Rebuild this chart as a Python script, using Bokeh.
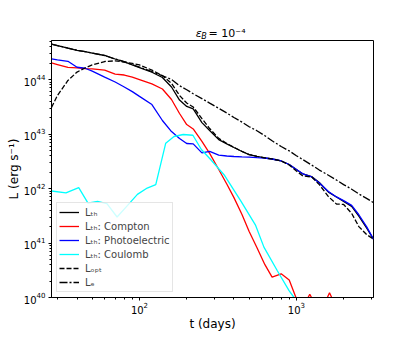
from bokeh.plotting import figure
from bokeh.layouts import column
from bokeh.models import Range1d, FixedTicker, LogTickFormatter, Legend, LegendItem
from bokeh.core.properties import value
from bokeh.embed import file_html
from bokeh.resources import INLINE

# ---- data ----
t = [27.5, 30, 35, 40, 45, 50, 60, 70, 80, 90, 100, 120, 140, 160, 180, 200, 220, 250,
     280, 320, 360, 400, 450, 500, 560, 630, 700, 800, 900, 1000, 1100, 1250, 1400,
     1600, 1800, 2000, 2250, 2500, 2800, 3100]

L_th = [4.48e44, 4.2e44, 3.77e44, 3.44e44, 3.24e44, 3.06e44, 2.76e44, 2.38e44, 2.11e44,
        1.85e44, 1.66e44, 1.36e44, 1.09e44, 7.3e43, 4.2e43, 3.2e43, 2.9e43, 1.62e43,
        1.16e43, 7.9e42, 6.6e42, 5.65e42, 4.78e42, 4.2e42, 3.87e42, 3.63e42, 3.48e42,
        3.2e42, 2.76e42, 2.23e42, 1.85e42, 1.66e42, 1.29e42, 8.6e41, 7.0e41, 5.8e41,
        4.7e41, 3.1e41, 1.9e41, 1.18e41]

L_photo = [2.40e44, 2.30e44, 2.16e44, 1.68e44, 1.61e44, 1.43e44, 1.11e44, 9.0e43, 7.3e43,
           6.0e43, 4.9e43, 3.47e43, 1.77e43, 1.11e43, 8.3e42, 6.7e42, 6.6e42, 4.5e42,
           4.8e42, 4.1e42, 3.95e42, 3.87e42, 3.82e42, 3.78e42, 3.7e42, 3.63e42, 3.48e42,
           3.2e42, 2.76e42, 2.23e42, 1.86e42, 1.63e42, 1.26e42, 8.8e41, 7.0e41, 6.0e41,
           4.9e41, 3.3e41, 2.0e41, 1.18e41]

t_comp = [27.5, 30, 35, 40, 45, 50, 60, 70, 80, 90, 100, 120, 140, 160, 180, 200, 220,
          250, 280, 320, 360, 400, 450, 500, 560, 630, 700, 800, 900, 1000, 1100, 1140,
          1217, 1300, 1400, 1520, 1626, 1740, 2000, 2500, 3100]
L_comp = [2.01e44, 1.88e44, 1.67e44, 1.64e44, 1.59e44, 1.57e44, 1.49e44, 1.26e44, 1.21e44,
          1.11e44, 1.0e44, 8.3e43, 6.7e43, 4.3e43, 2.38e43, 1.49e43, 1.24e43, 7.3e42,
          4.4e42, 2.23e42, 1.21e42, 6.8e41, 3.33e41, 1.63e41, 8.3e40, 4.0e40, 2.36e40,
          2.72e40, 2.1e40, 9.5e39, 6e39, 8e39, 1.15e40, 8e39, 5e39, 8e39, 1.22e40, 8e39,
          4e39, 3e39, 2e39]

t_coul = [27.5, 34, 41, 47, 54, 62, 72, 84, 97, 112, 127, 147, 166, 190, 219, 248, 284,
          349, 441, 550, 621, 756, 898, 966, 1100]
L_coul = [9.0e41, 8.3e41, 1.04e42, 5.4e41, 5.8e41, 5.3e41, 3.0e41, 4.9e41, 7.8e41, 1.02e42,
          1.18e42, 6.8e42, 9.0e42, 9.8e42, 9.5e42, 5.2e42, 3.4e42, 1.73e42, 6.0e41, 2.1e41,
          8.4e40, 3.1e40, 1.34e40, 1.0e40, 4e39]

L_opt = [3.06e43, 5.1e43, 9.6e43, 1.37e44, 1.63e44, 1.85e44, 2.14e44, 2.20e44, 2.09e44,
         1.97e44, 1.85e44, 1.49e44, 1.18e44, 8.5e43, 5.1e43, 3.7e43, 3.13e43, 1.92e43,
         1.26e43, 8.3e42, 6.7e42, 5.7e42, 4.8e42, 4.2e42, 3.9e42, 3.65e42, 3.5e42, 3.2e42,
         2.7e42, 2.1e42, 1.7e42, 1.63e42, 1.18e42, 7.1e41, 5.2e41, 5.1e41, 3.5e41, 2.0e41,
         1.43e41, 1.18e41]

L_e = [4.48e44, 4.2e44, 3.77e44, 3.44e44, 3.24e44, 3.06e44, 2.76e44, 2.38e44, 2.14e44,
       1.87e44, 1.69e44, 1.40e44, 1.17e44, 1.0e44, 7.7e43, 6.5e43, 5.47e43, 4.47e43,
       3.69e43, 2.96e43, 2.43e43, 2.01e43, 1.65e43, 1.36e43, 1.15e43, 9.3e42, 7.5e42,
       5.9e42, 4.9e42, 4.0e42, 3.39e42, 2.7e42, 2.18e42, 1.75e42, 1.43e42, 1.18e42,
       9.7e41, 7.96e41, 6.6e41, 5.5e41]

x_major = [100, 1000]
x_minor = [30, 40, 50, 60, 70, 80, 90, 200, 300, 400, 500, 600, 700, 800, 900, 2000, 3000]
y_major = [1e40, 1e41, 1e42, 1e43, 1e44]
y_minor = [k * 10.0 ** n for n in range(40, 45) for k in range(2, 10)]

labels = ["L\u209c\u2095", "L\u209c\u2095: Compton", "L\u209c\u2095: Photoelectric",
          "L\u209c\u2095: Coulomb", "L\u2092\u209a\u209c", "L\u2091"]

title_parts = ["\u03b5", "B", "= 10\u207b\u2074"]

FONT = "DejaVu Sans"

# ---- title strip (rich text: epsilon_B = 10^-4) ----
tf = figure(width=415, height=39, x_range=Range1d(0, 415), y_range=Range1d(39, 0),
            output_backend="svg", toolbar_location=None, min_border=0,
            x_axis_location=None, y_axis_location=None)
tf.outline_line_color = None
tf.xgrid.visible = False
tf.ygrid.visible = False
tf.text(x=[186], y=[33.0], text=[title_parts[0]], text_font=value(FONT),
        text_font_size="11px", text_font_style="italic", text_baseline="middle",
        text_color="black")
tf.text(x=[193], y=[35.5], text=[title_parts[1]], text_font=value(FONT),
        text_font_size="8px", text_font_style="italic", text_baseline="middle",
        text_color="black")
tf.text(x=[202.5], y=[33.0], text=[title_parts[2]], text_font=value(FONT),
        text_font_size="11px", text_baseline="middle", text_color="black")

# ---- main plot ----
p = figure(width=415, height=301, x_axis_type="log", y_axis_type="log",
           x_range=Range1d(27.5, 3100), y_range=Range1d(1e40, 5.2e44),
           output_backend="svg", toolbar_location=None,
           min_border_left=51, min_border_right=42, min_border_top=1, min_border_bottom=43)

p.xgrid.grid_line_color = None
p.ygrid.grid_line_color = None
p.outline_line_color = "black"
p.outline_line_alpha = 1.0
p.outline_line_width = 1
p.background_fill_color = "white"
p.border_fill_color = "white"

p.xaxis.ticker = FixedTicker(ticks=x_major, minor_ticks=x_minor)
p.yaxis.ticker = FixedTicker(ticks=y_major, minor_ticks=y_minor)
p.xaxis.formatter = LogTickFormatter()
p.yaxis.formatter = LogTickFormatter()

for ax in (p.xaxis[0], p.yaxis[0]):
    ax.major_label_text_font = FONT
    ax.major_label_text_font_size = "10px"
    ax.major_label_text_color = "black"
    ax.axis_label_text_font = FONT
    ax.axis_label_text_font_size = "12px"
    ax.axis_label_text_font_style = "normal"
    ax.axis_label_text_color = "black"
    ax.axis_line_color = "black"
    ax.major_tick_line_color = "black"
    ax.minor_tick_line_color = "black"
    ax.major_tick_out = 3
    ax.major_tick_in = 0
    ax.minor_tick_out = 2
    ax.minor_tick_in = 0
    ax.major_label_standoff = 3
    ax.axis_label_standoff = 0

p.xaxis.major_label_standoff = 1

p.xaxis.axis_label = "t (days)"
p.yaxis.axis_label = "L (erg s\u207b\u00b9)"

lw = 1.3
r1 = p.line(t, L_th, line_color="black", line_width=lw)
r2 = p.line(t_comp, L_comp, line_color="red", line_width=lw)
r3 = p.line(t, L_photo, line_color="blue", line_width=lw)
r4 = p.line(t_coul, L_coul, line_color="cyan", line_width=lw)
r5 = p.line(t, L_opt, line_color="black", line_width=lw, line_dash="5 2")
r6 = p.line(t, L_e, line_color="black", line_width=lw, line_dash="8 2 2 2")

legend = Legend(items=[LegendItem(label=lab, renderers=[r]) for lab, r in
                       zip(labels, [r1, r2, r3, r4, r5, r6])],
                location="bottom_left", margin=5, padding=2, spacing=0,
                glyph_width=20, glyph_height=14, label_height=14, label_standoff=6,
                label_text_font=FONT, label_text_font_size="10px",
                background_fill_color="white", background_fill_alpha=0.8,
                border_line_color="#cccccc", border_line_width=1)
p.add_layout(legend)

layout = column(tf, p, spacing=0)
open("out.html", "w").write(file_html(layout, INLINE))
